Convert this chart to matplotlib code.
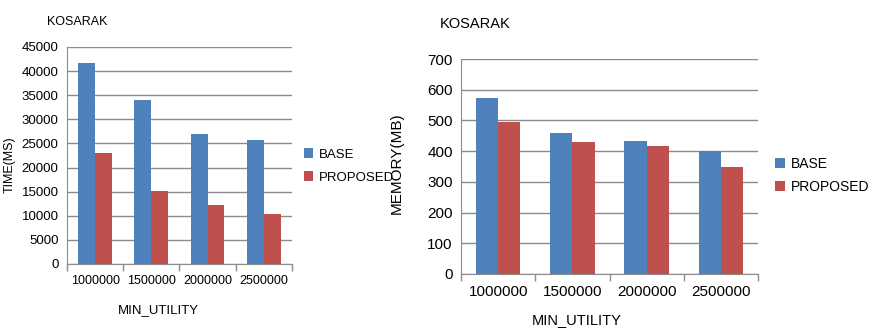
import numpy as np
import matplotlib
matplotlib.use("Agg")
import matplotlib.pyplot as plt

plt.rcParams['font.family'] = ['Liberation Sans', 'DejaVu Sans']

categories = ["1000000", "1500000", "2000000", "2500000"]
series_names = ["BASE", "PROPOSED"]
time_base = [41700, 34000, 27000, 25700]
time_proposed = [23000, 15200, 12300, 10400]
mem_base = [574, 460, 434, 401]
mem_proposed = [496, 431, 416, 349]
time_ticks = [0, 5000, 10000, 15000, 20000, 25000, 30000, 35000, 40000, 45000]
mem_ticks = [0, 100, 200, 300, 400, 500, 600, 700]

BLUE = "#4F81BD"
RED = "#C0504D"
GRID = "#8c8c8c"

fig = plt.figure(figsize=(8.69, 3.30), dpi=100)


def draw_panel(rect, base, proposed, yticks, tick_fs, xtick_fs, legend_fs, legend_pos, spacing):
    ax = fig.add_axes(rect)
    x = np.arange(len(categories))
    w = 0.3
    ax.bar(x - w / 2, base, w, color=BLUE, label=series_names[0], zorder=3)
    ax.bar(x + w / 2, proposed, w, color=RED, label=series_names[1], zorder=3)
    ax.set_xlim(-0.5, len(categories) - 0.5)
    ax.set_ylim(yticks[0], yticks[-1])
    ax.set_yticks(yticks)
    ax.set_yticklabels([str(t) for t in yticks], fontsize=tick_fs)
    ax.yaxis.grid(True, color=GRID, linewidth=1, zorder=0)
    ax.tick_params(axis='y', length=0, pad=6)
    ax.set_xticks(x)
    ax.set_xticklabels(categories, fontsize=xtick_fs)
    ax.set_xticks(np.arange(len(categories) + 1) - 0.5, minor=True)
    ax.tick_params(axis='x', which='major', length=0, pad=8)
    ax.tick_params(axis='x', which='minor', length=5, color=GRID, width=1, direction='out')
    for s in ['top', 'right']:
        ax.spines[s].set_visible(False)
    ax.spines['left'].set_color(GRID)
    ax.spines['bottom'].set_color(GRID)
    ax.legend(loc='center left', bbox_to_anchor=legend_pos, bbox_transform=fig.transFigure,
              frameon=False, fontsize=legend_fs, handlelength=0.7, handleheight=0.7,
              handletextpad=0.4, labelspacing=spacing, borderaxespad=0, borderpad=0)
    return ax


ax1 = draw_panel([0.0771, 0.2, 0.2589, 0.6576], time_base, time_proposed,
                 time_ticks, 9.5, 9, 9.5, (0.350, 0.497), 0.8)
ax2 = draw_panel([0.5305, 0.1697, 0.3418, 0.6515], mem_base, mem_proposed,
                 mem_ticks, 11, 11, 10, (0.892, 0.468), 0.65)

fig.text(0.054, 0.933, "KOSARAK", fontsize=9, va='center', ha='left')
fig.text(0.506, 0.927, "KOSARAK", fontsize=10.5, va='center', ha='left')
fig.text(0.182, 0.06, "MIN_UTILITY", fontsize=9.5, va='center', ha='center')
fig.text(0.664, 0.03, "MIN_UTILITY", fontsize=10.5, va='center', ha='center')
fig.text(0.011, 0.5, "TIME(MS)", fontsize=9, va='center', ha='center', rotation=90)
fig.text(0.457, 0.505, "MEMORY(MB)", fontsize=11, va='center', ha='center', rotation=90)

fig.savefig("out.png", dpi=100)
